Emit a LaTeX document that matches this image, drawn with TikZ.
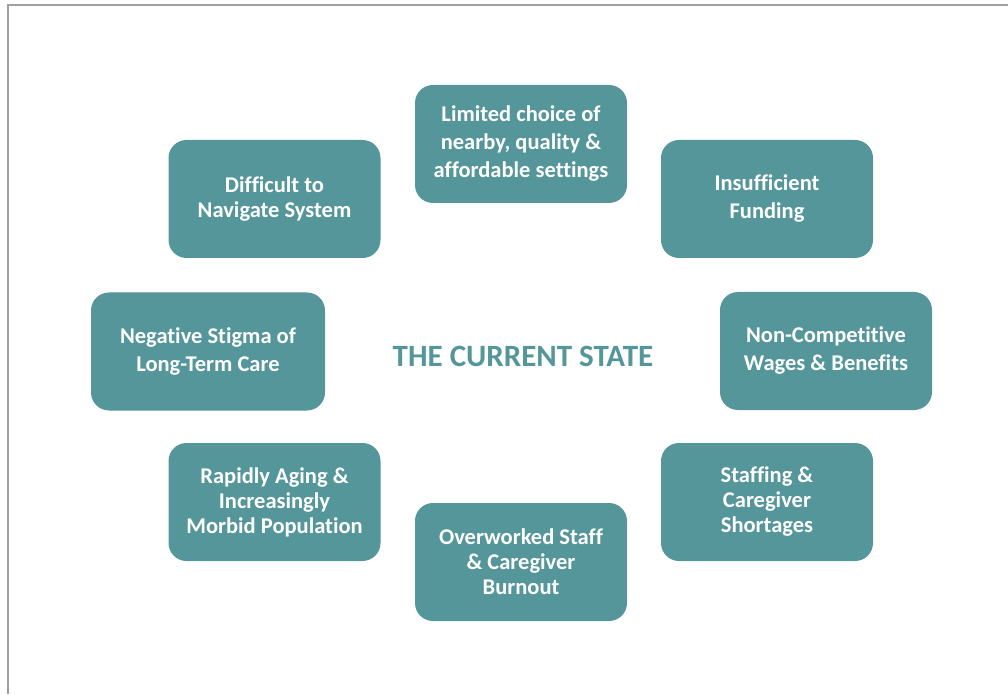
\documentclass[tikz,border=0pt]{standalone}
\usepackage{fontspec}
\setmainfont{Carlito}[Ligatures=NoCommon]
\usepackage{tikz}
\usetikzlibrary{positioning}
\definecolor{statecolor}{RGB}{84,150,153}
\definecolor{framecolor}{RGB}{160,160,160}

\begin{document}
\begin{tikzpicture}[x=1pt, y=1pt,
    issue/.style={fill=statecolor, rounded corners=18pt, minimum width=212pt, minimum height=118pt,
        inner sep=0pt, align=center, text=white, font=\fontsize{22.5}{25}\selectfont\bfseries},
    wide/.style={font=\fontsize{22.5}{28}\selectfont\bfseries}]
    \useasboundingbox (0,0) rectangle (1008,694);

    % Page frame (only top and left edges visible)
    \draw[framecolor, line width=2pt] (8,0) -- (8,688.5) -- (1008,688.5);

    % Title
    \node[text=statecolor, font=\fontsize{31}{34}\selectfont\bfseries] (title) at (523,338) {THE CURRENT STATE};

    % Ring of issues
    \node[issue, wide] (choice) at (521,550) {Limited choice of\\nearby, quality \&\\affordable settings};
    \node[issue, wide] (funding) at (767,495) {Insufficient\\Funding};
    \node[issue, wide] (wages) at (826,343) {Non-Competitive\\Wages \& Benefits};
    \node[issue] (shortage) at (767,192) {Staffing \&\\Caregiver\\Shortages};
    \node[issue] (burnout) at (521,132) {Overworked Staff\\\& Caregiver\\Burnout};
    \node[issue] (aging) at (274.5,192) {Rapidly Aging \&\\Increasingly\\Morbid Population};
    \node[issue, wide, minimum width=234pt] (stigma) at (208,342.5) {Negative Stigma of\\Long-Term Care};
    \node[issue] (navigate) at (274.5,495) {Difficult to\\Navigate System};

\end{tikzpicture}
\end{document}
